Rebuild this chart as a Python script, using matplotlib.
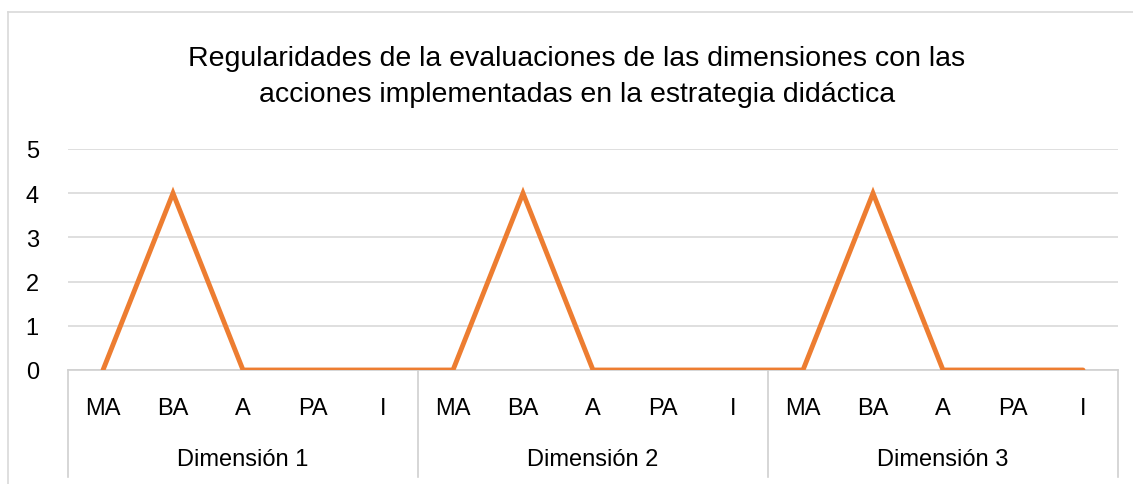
import numpy as np
import matplotlib.pyplot as plt
from matplotlib.lines import Line2D

# data
groups = ['Dimensión 1', 'Dimensión 2', 'Dimensión 3']
levels = ['MA', 'BA', 'A', 'PA', 'I']
values = [0, 4, 0, 0, 0,
          0, 4, 0, 0, 0,
          0, 4, 0, 0, 0]
title = ('Regularidades de la evaluaciones de las dimensiones con las\n'
         'acciones implementadas en la estrategia didáctica')

plt.rcParams['font.family'] = ['Liberation Sans Narrow', 'Liberation Sans', 'DejaVu Sans']

W, H = 1133, 485
fig = plt.figure(figsize=(W / 100, H / 100), dpi=100)
ax = fig.add_axes([68 / W, 1 - 371 / H, (1118 - 68) / W, (371 - 150) / H])

n = len(values)
x = np.arange(n)
ax.plot(x, values, color='#ED7D31', lw=3.5, solid_capstyle='round', solid_joinstyle='miter', zorder=3)

ax.set_xlim(-0.5, n - 0.5)
ax.set_ylim(0, 5)
ax.set_yticks(range(0, 6))
ax.yaxis.grid(True, color='#d9d9d9', lw=1.2)
ax.set_axisbelow(True)
for s in ['top', 'right', 'left']:
    ax.spines[s].set_visible(False)
ax.spines['bottom'].set_color('#d0d0d0')
ax.spines['bottom'].set_linewidth(1.2)
ax.tick_params(axis='y', length=0, pad=21, labelsize=17)
ax.set_xticks([])

# category labels and group labels
grid_gray = '#d0d0d0'
for i in range(n):
    ax.text(i, -0.86, levels[i % len(levels)], ha='center', va='center', fontsize=17)
for g, name in enumerate(groups):
    ax.text(g * 5 + 2, -2.02, name, ha='center', va='center', fontsize=17)
for b in range(len(groups) + 1):
    xb = b * 5 - 0.5
    ax.add_line(Line2D([xb, xb], [0, -2.42], color=grid_gray, lw=1.2, clip_on=False))

fig.text(577 / W, 1 - 77 / H, title, ha='center', va='center', fontsize=20.5, linespacing=1.45)

# outer chart border (left and top visible)
fig.add_artist(Line2D([8 / W, 8 / W], [0, 1 - 13 / H], color='#d9d9d9', lw=1.2))
fig.add_artist(Line2D([8 / W, 1], [1 - 13 / H, 1 - 13 / H], color='#d9d9d9', lw=1.2))

fig.savefig('out.png', dpi=100)
